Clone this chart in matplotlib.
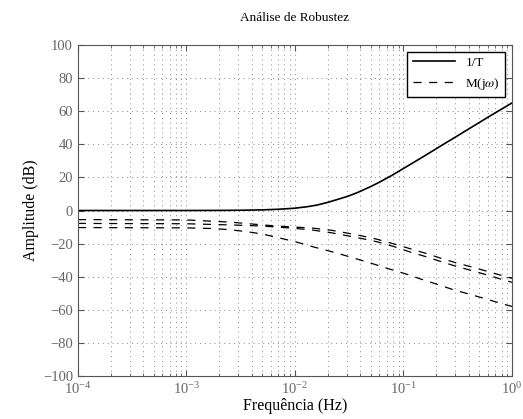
import numpy as np
import matplotlib
matplotlib.use("Agg")
import matplotlib.pyplot as plt

plt.rcParams['font.family'] = ['Liberation Serif', 'DejaVu Serif']
plt.rcParams['mathtext.fontset'] = 'stix'

# 1/T
f_t = [1e-4, 1e-3, 0.002, 0.003, 0.005, 0.007, 0.01, 0.013, 0.016, 0.02, 0.025,
       0.03, 0.035, 0.04, 0.05, 0.06, 0.07, 0.08, 0.1, 0.12, 0.15, 0.2, 0.25,
       0.3, 0.4, 0.5, 0.7, 1.0]
db_t = [0, 0, 0.06, 0.14, 0.38, 0.75, 1.4, 2.3, 3.3, 4.9, 6.8,
        8.4, 10.0, 11.6, 14.5, 17.1, 19.5, 21.6, 25.4, 28.5, 32.3, 37.3, 41.2,
        44.3, 49.3, 53.2, 59.0, 65.0]

# M(jw) - tres curvas
f_m1 = [1e-4, 1e-3, 0.0025, 0.005, 0.0072, 0.01, 0.0148, 0.021, 0.029, 0.041,
        0.058, 0.08, 0.114, 0.163, 0.215, 0.305, 0.43, 0.61, 0.86, 1.0]
db_m1 = [-5.5, -5.7, -7.0, -8.7, -9.5, -10.0, -10.7, -11.8, -13.4, -15.3,
         -17.5, -20.0, -23.0, -26.0, -28.6, -31.6, -34.2, -37.0, -39.8, -41.0]

f_m2 = f_m1
db_m2 = [-7.8, -8.0, -8.7, -9.4, -10.1, -10.8, -11.9, -13.3, -15.0, -16.9,
         -19.0, -21.6, -25.0, -28.0, -30.6, -33.7, -36.4, -39.2, -42.2, -43.4]

f_m3 = [1e-4, 1e-3, 0.00176, 0.0025, 0.0036, 0.005, 0.0072, 0.01, 0.0148, 0.021,
        0.029, 0.05, 0.0746, 0.105, 0.141, 0.2, 0.28, 0.54, 0.77, 1.0]
db_m3 = [-10.3, -10.5, -10.9, -11.6, -12.8, -14.2, -16.6, -18.8, -22.0, -24.6,
         -27.2, -31.8, -35.4, -38.3, -41.2, -44.4, -47.6, -52.9, -55.9, -58.0]

fig = plt.figure(figsize=(5.23, 4.19), dpi=100)
ax = fig.add_axes([0.149, 0.1026, 0.830, 0.790])

ax.semilogx(f_t, db_t, 'k-', lw=1.2, label='1/T')
ax.semilogx(f_m1, db_m1, 'k--', lw=0.9, dashes=(6.5, 6), label=r'M(j$\omega$)')
ax.semilogx(f_m2, db_m2, 'k--', lw=0.9, dashes=(6.5, 6))
ax.semilogx(f_m3, db_m3, 'k--', lw=0.9, dashes=(6.5, 6))

ax.set_xlim(1e-4, 1)
ax.set_ylim(-100, 100)
ax.set_yticks(np.arange(-100, 101, 20))
ax.grid(True, which='major', ls=(0, (1, 4)), color='#888888', lw=0.7)
ax.grid(True, which='minor', axis='x', ls=(0, (1, 4)), color='#888888', lw=0.7)

ax.tick_params(which='both', direction='in', top=True, right=True, colors='#555555',
               labelcolor='#666666', labelsize=10.5)
ax.tick_params(which='major', length=4)
ax.tick_params(which='minor', length=2)
for s in ax.spines.values():
    s.set_color('#555555')

ax.set_title('Análise de Robustez', fontsize=9.5, pad=17)
ax.set_xlabel('Frequência (Hz)', fontsize=11.5, labelpad=1)
ax.set_ylabel('Amplitude (dB)', fontsize=11.5, labelpad=3)

leg = ax.legend(loc='upper right', fontsize=9.5, fancybox=False, edgecolor='k',
                framealpha=1, borderaxespad=0.5, handlelength=3.2)
leg.get_frame().set_linewidth(1.0)

fig.savefig('out.png', dpi=100)
